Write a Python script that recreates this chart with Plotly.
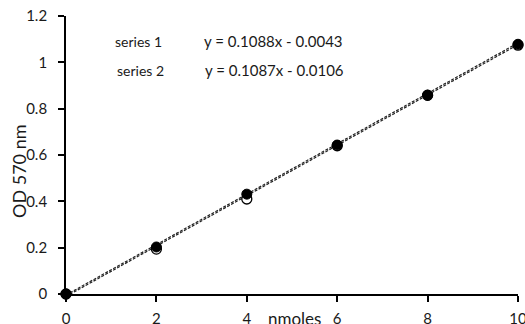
import plotly.graph_objects as go

x_nmoles = [0, 2, 4, 6, 8, 10]
series1 = [0.0, 0.203, 0.431, 0.643, 0.858, 1.078]
series2 = [0.0, 0.194, 0.410, 0.640, 0.858, 1.074]
fit1 = (0.1088, -0.0043)
fit2 = (0.1087, -0.0106)
eq_labels = ["y = 0.1088x - 0.0043", "y = 0.1087x - 0.0106"]
series_names = ["series 1", "series 2"]
x_ticks = [0, 2, 4, 6, 8, 10]
y_ticks = [0, 0.2, 0.4, 0.6, 0.8, 1, 1.2]
y_tick_text = ["0", "0.2", "0.4", "0.6", "0.8", "1", "1.2"]

FONT = "Lato"
TXT = "#1a1a1a"
fig = go.Figure()

line_x = [x_nmoles[0], x_nmoles[-1]]
for (m, b) in (fit2, fit1):
    fig.add_trace(go.Scatter(
        x=line_x, y=[m * v + b for v in line_x], mode="lines",
        line=dict(color="#222222", width=1.2, dash="3px,1.5px"),
        showlegend=False, hoverinfo="skip"))

fig.add_trace(go.Scatter(
    x=x_nmoles, y=series2, mode="markers",
    marker=dict(size=10, color="white", line=dict(color="black", width=1.3)),
    showlegend=False, cliponaxis=False))
fig.add_trace(go.Scatter(
    x=x_nmoles, y=series1, mode="markers",
    marker=dict(size=10, color="black", line=dict(color="black", width=1)),
    showlegend=False, cliponaxis=False))

L, R, T, B = 66, 7, 16, 30
W, H = 525, 324
pw, ph = W - L - R, H - T - B


def px(xp):
    return (xp - L) / pw


def py(yp):
    return 1 - (yp - T) / ph


for i, (nm, eq) in enumerate(zip(series_names, eq_labels)):
    yy = [41, 70][i]
    fig.add_annotation(x=px([113, 115][i]), y=py(yy), xref="paper", yref="paper",
                       text=nm, showarrow=False, xanchor="left", yanchor="middle",
                       font=dict(family=FONT, size=14, color=TXT))
    fig.add_annotation(x=px([345, 346][i]), y=py(yy), xref="paper", yref="paper",
                       text=eq, showarrow=False, xanchor="right", yanchor="middle",
                       font=dict(family=FONT, size=15, color=TXT))

fig.add_annotation(x=px(19), y=py(172), xref="paper", yref="paper",
                   text="OD 570 nm", textangle=-90, showarrow=False,
                   xanchor="center", yanchor="middle",
                   font=dict(family=FONT, size=18, color=TXT))
fig.add_annotation(x=px(294), y=py(318), xref="paper", yref="paper",
                   text="nmoles", showarrow=False,
                   xanchor="center", yanchor="middle",
                   font=dict(family=FONT, size=17, color=TXT))

fig.update_layout(
    width=W, height=H,
    margin=dict(l=L, r=R, t=T, b=B),
    paper_bgcolor="white", plot_bgcolor="white",
    font=dict(family=FONT, size=15, color=TXT),
    showlegend=False,
)
fig.update_xaxes(range=[0, 10], tickvals=x_ticks, ticks="outside", ticklen=6,
                 tickwidth=1.5, tickcolor="black", showline=True, linecolor="black",
                 linewidth=1.8, showgrid=False, zeroline=False, ticklabelstandoff=4,
                 ticklabeloverflow="allow", automargin=False,
                 tickfont=dict(family=FONT, size=15, color=TXT))
fig.update_yaxes(range=[0, 1.2], tickvals=y_ticks, ticktext=y_tick_text,
                 ticks="outside", ticklen=6, tickwidth=1.5, tickcolor="black",
                 showline=True, linecolor="black", linewidth=1.8, showgrid=False,
                 zeroline=False, ticklabelstandoff=8, automargin=False,
                 tickfont=dict(family=FONT, size=15, color=TXT))

fig.write_html("out.html", config={"displayModeBar": False},
               post_script="document.body.style.margin='0';")
